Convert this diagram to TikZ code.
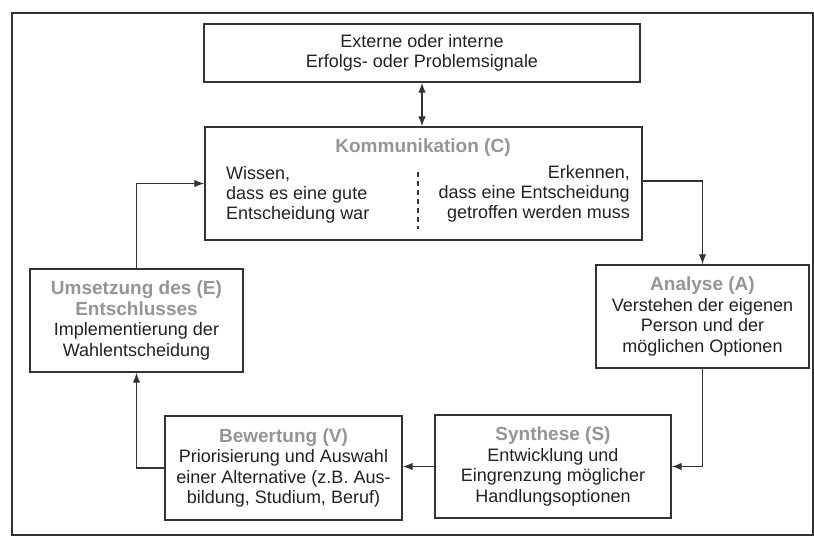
\documentclass[tikz,border=0pt]{standalone}
\usepackage{fontspec}
\setmainfont{Liberation Sans}
\usetikzlibrary{arrows.meta}
\definecolor{ink}{HTML}{222222}
\definecolor{titlegray}{HTML}{959595}
\definecolor{linegray}{HTML}{333333}
\newcommand{\ttl}[1]{{\color{titlegray}\bfseries\fontsize{19}{21}\selectfont #1}}
\tikzset{
  box/.style={draw=linegray, line width=1.4pt, inner sep=0pt, align=center,
    text=ink, font=\fontsize{18}{20.5}\selectfont},
  txt/.style={inner sep=0pt, text=ink, font=\fontsize{18}{20}\selectfont},
  conn/.style={draw=linegray, line width=1.3pt},
  arr/.style={conn, -{Latex[length=10pt,width=7.5pt]}},
  darr/.style={conn, {Latex[length=10pt,width=7.5pt]}-{Latex[length=10pt,width=7.5pt]}},
}
\begin{document}
\begin{tikzpicture}[x=1pt,y=-1pt]
\useasboundingbox (0,0) rectangle (814,548);
\fill[white] (0,0) rectangle (814,548);
\draw[draw=linegray, line width=1.3pt] (12,13) rectangle (813,535);

\node[box, minimum width=436pt, minimum height=58pt] (top) at (422,53)
  {Externe oder interne\\Erfolgs- oder Problemsignale};

\node[box, minimum width=437pt, minimum height=113pt] (komm) at (423.5,183.5) {};
\node[inner sep=0pt] (kommtitle) at (423,148) {\ttl{Kommunikation (C)}};
\node[txt, anchor=west, align=left] (kommleft) at (226,195)
  {Wissen,\\dass es eine gute\\Entscheidung war};
\node[txt, anchor=east, align=right] (kommright) at (630,194)
  {Erkennen,\\dass eine Entscheidung\\getroffen werden muss};
\coordinate (divtop) at (418,172);
\coordinate (divbot) at (418,229);
\draw[draw=linegray, line width=1.1pt, dash pattern=on 5pt off 4pt] (divtop) -- (divbot);

\node[box, minimum width=213pt, minimum height=103pt] (analyse) at (702.5,316.5)
  {\ttl{Analyse (A)}\\Verstehen der eigenen\\Person und der\\möglichen Optionen};

\node[box, minimum width=213pt, minimum height=103pt] (umsetzung) at (136.5,320.5)
  {\ttl{Umsetzung des (E)}\\\ttl{Entschlusses}\\Implementierung der\\Wahlentscheidung};

\node[box, minimum width=236pt, minimum height=103pt] (synthese) at (553,466.5)
  {\ttl{Synthese (S)}\\Entwicklung und\\Eingrenzung möglicher\\Handlungsoptionen};

\node[box, minimum width=237pt, minimum height=104pt] (bewertung) at (283.5,468)
  {\ttl{Bewertung (V)}\\Priorisierung und Auswahl\\einer Alternative (z.B. Aus-\\bildung, Studium, Beruf)};

\draw[darr] (top.south) -- (top.south |- komm.north);
\draw[arr] ([yshift=2.5pt]komm.east) -| (analyse.north);
\draw[arr] (analyse.south) |- (synthese.east);
\draw[arr] (synthese.west) -- (synthese.west -| bewertung.east);
\draw[arr] (bewertung.west) -| (umsetzung.south);
\draw[arr] (umsetzung.north) |- (komm.west);
\end{tikzpicture}
\end{document}
